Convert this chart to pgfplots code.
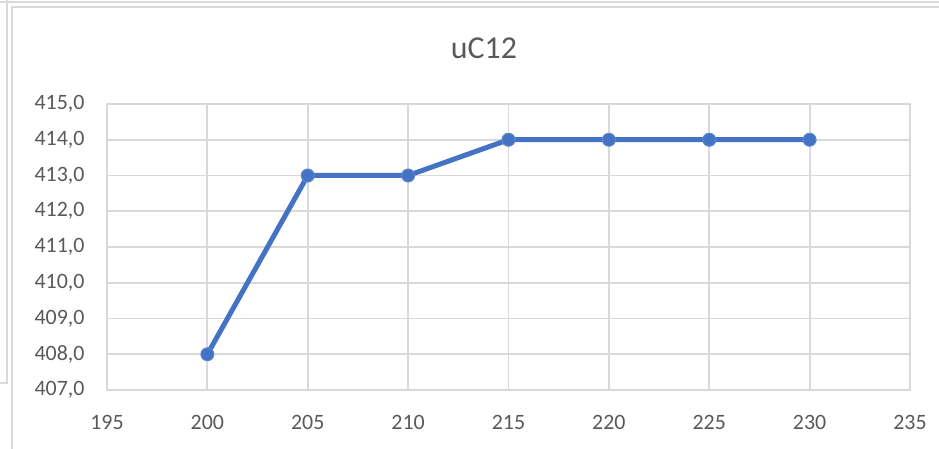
\documentclass[border=0pt]{standalone}
\usepackage{pgfplots}
\pgfplotsset{compat=1.18}
\usepackage{fontspec}
\setmainfont{Carlito}
\definecolor{lineblue}{HTML}{4472C4}
\definecolor{gridgray}{HTML}{D9D9D9}
\definecolor{textgray}{HTML}{595959}
\begin{document}
\begin{tikzpicture}[x=1bp,y=1bp]
\path[use as bounding box] (0,0) rectangle (939,449);
% neighbouring chart frame edges
\draw[gridgray, line width=1.5bp] (0,447) -- (939,447);
\draw[gridgray, line width=1.5bp] (12,0) -- (12,442) -- (939,442);
\draw[gridgray, line width=1.5bp] (7,449) -- (7,66) -- (0,66);
\node[text=textgray, font=\fontsize{32}{38}\selectfont] at (484,401) {uC12};
\begin{axis}[
  at={(107bp,59bp)}, anchor=south west,
  scale only axis, width=803bp, height=286bp,
  xmin=195, xmax=235, ymin=407, ymax=415,
  xtick={195,200,...,235}, ytick={407,408,...,415},
  grid=major,
  major grid style={gridgray, line width=1.8bp},
  axis line style={gridgray, line width=1.8bp},
  tick style={draw=none},
  ticklabel style={text=textgray, font=\fontsize{22}{26}\selectfont},
  /pgf/number format/assume math mode=true,
  yticklabel style={/pgf/number format/fixed, /pgf/number format/fixed zerofill, /pgf/number format/precision=1, /pgf/number format/use comma, /tikz/xshift=-19bp},
  xticklabel style={/pgf/number format/fixed, /pgf/number format/precision=0, /tikz/yshift=-22bp},
  clip=false,
]
\addplot[lineblue, line width=5bp, mark=*, mark size=6.5bp, mark options={fill=lineblue, draw=lineblue!85, line width=1bp}]
  coordinates {(200,408) (205,413) (210,413) (215,414) (220,414) (225,414) (230,414)};
\end{axis}
\end{tikzpicture}
\end{document}
